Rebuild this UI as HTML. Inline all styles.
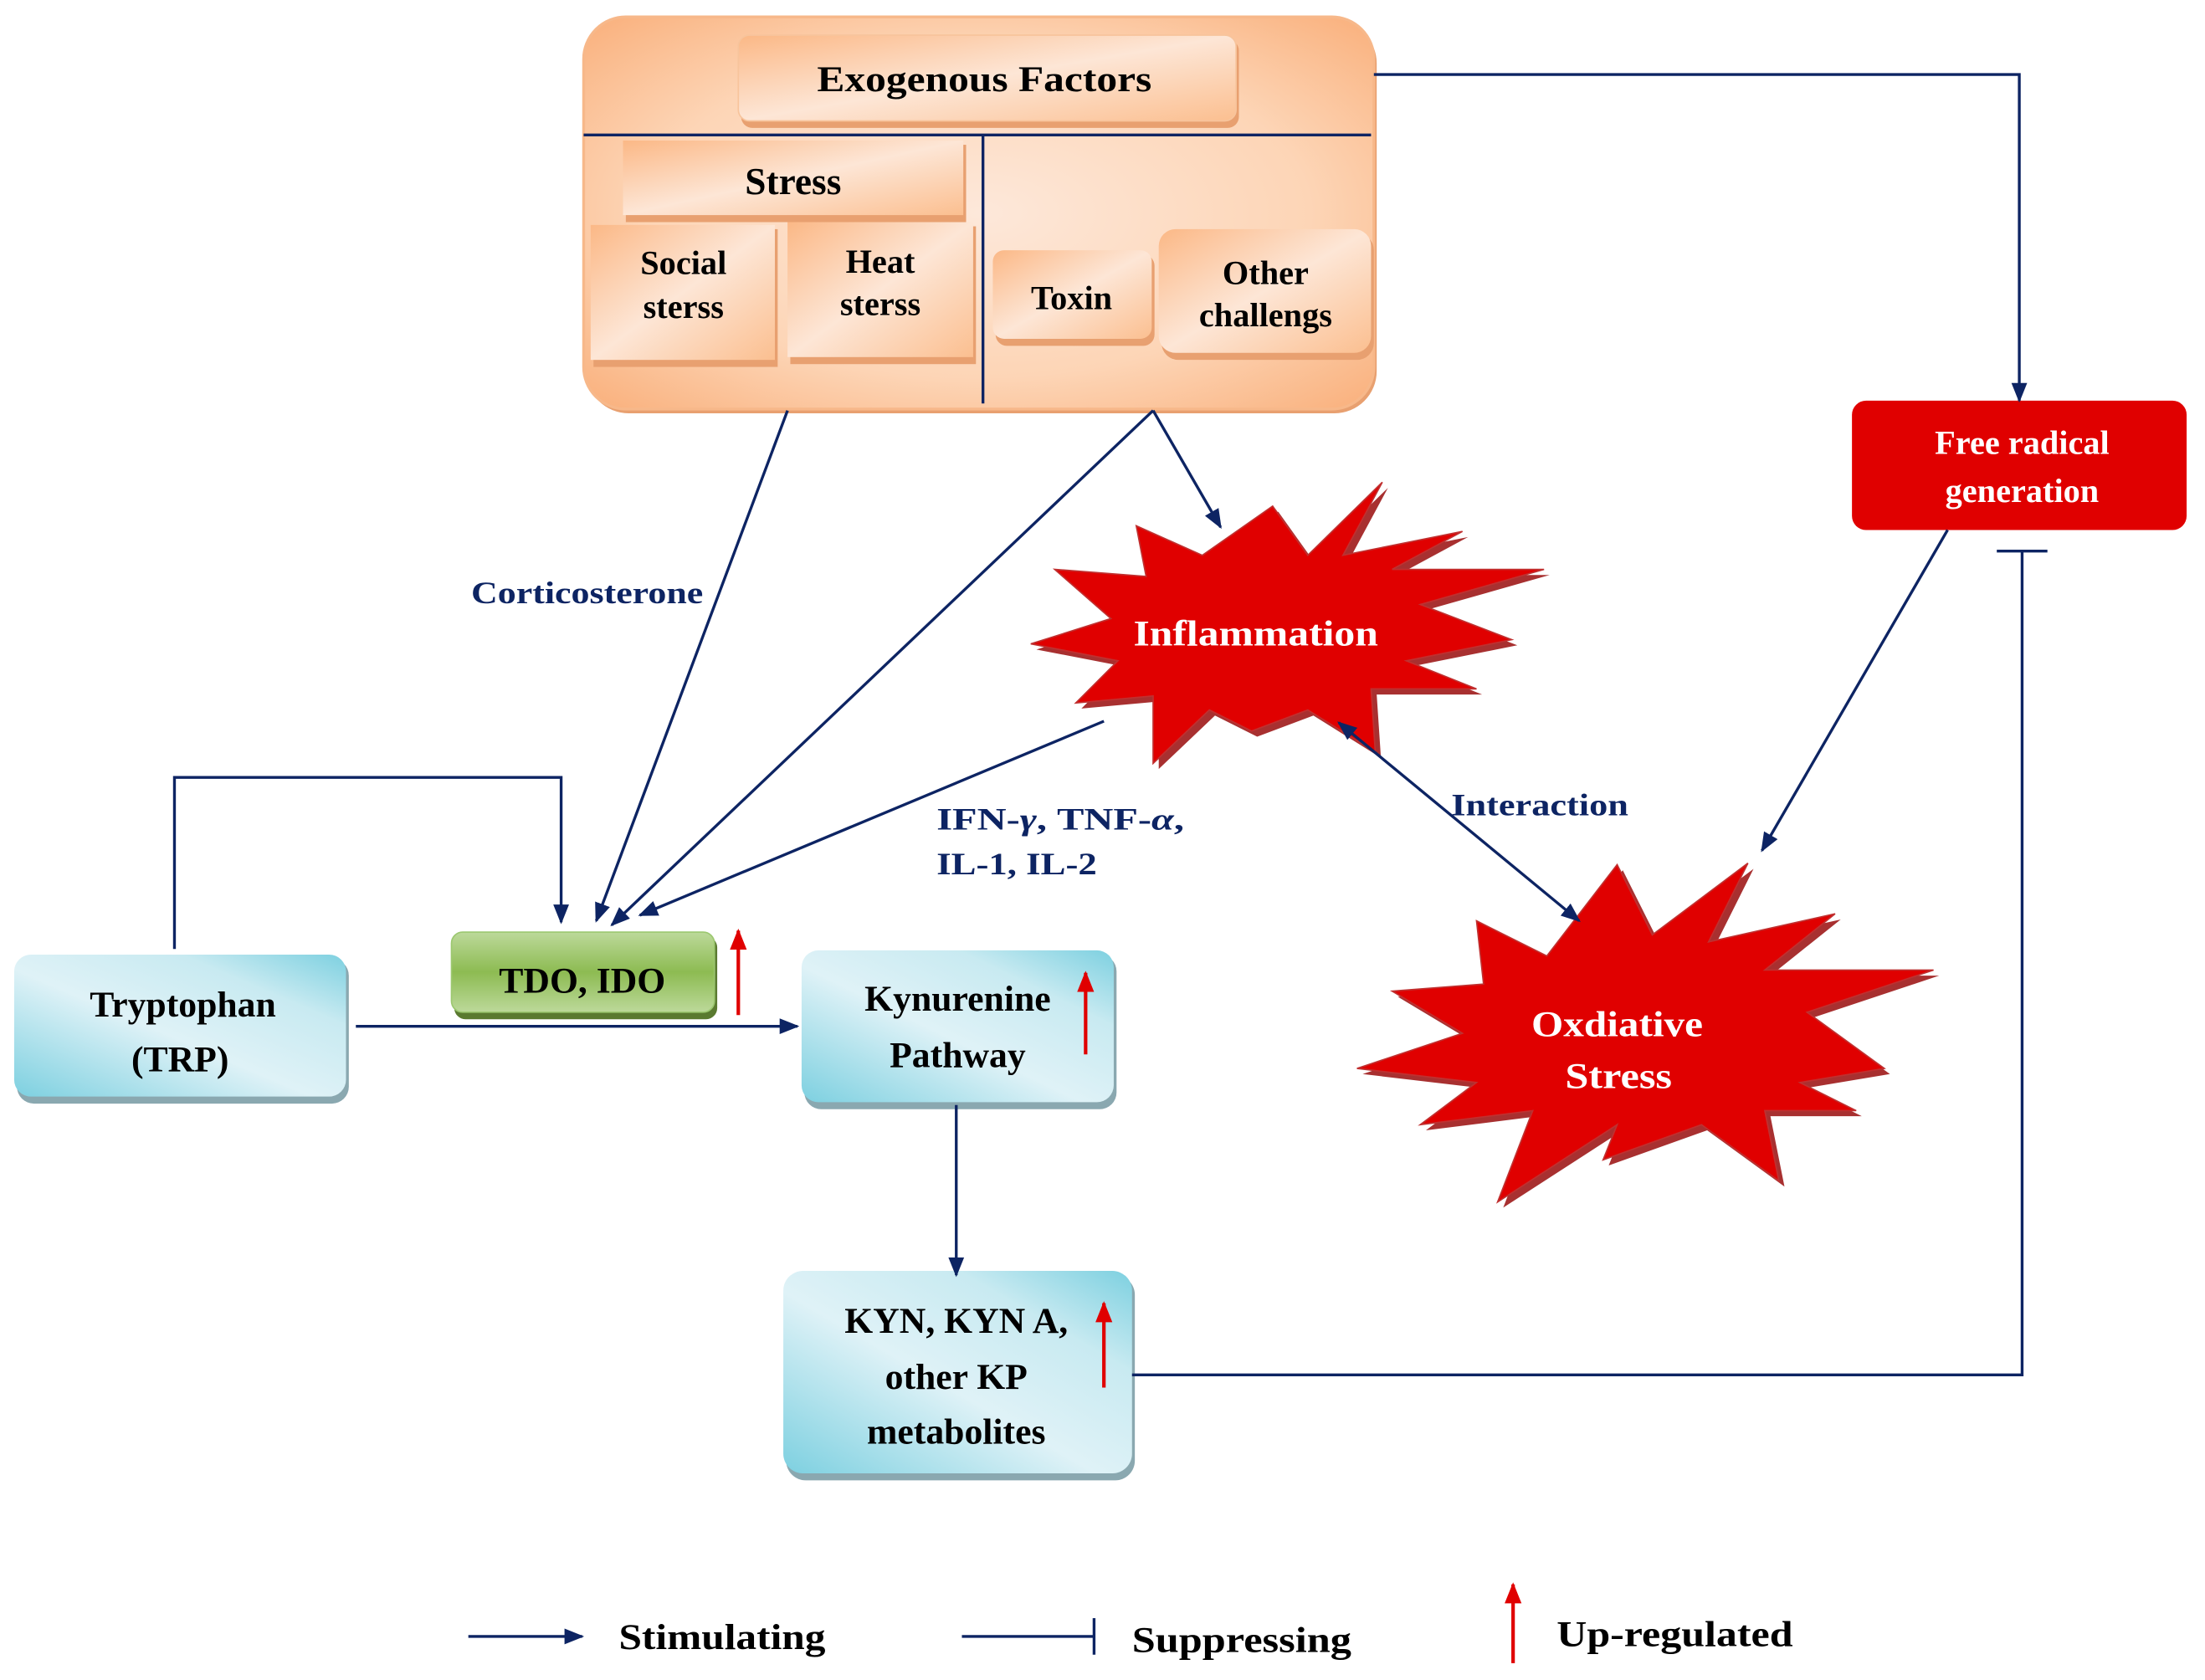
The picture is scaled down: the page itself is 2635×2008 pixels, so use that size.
<!DOCTYPE html>
<html><head><meta charset="utf-8"><style>
html,body{margin:0;padding:0;background:#fff;}
svg{display:block;}
text{font-family:"Liberation Serif",serif;font-weight:bold;}
</style></head><body>
<svg width="2635" height="2008" viewBox="0 0 1568 1195" xmlns="http://www.w3.org/2000/svg">
<defs>
<linearGradient id="og" x1="0" y1="0" x2="1" y2="1">
<stop offset="0" stop-color="#fbb886"/><stop offset="0.5" stop-color="#fde6d6"/><stop offset="1" stop-color="#fbbf90"/></linearGradient>
<radialGradient id="ob" cx="0.5" cy="0.5" r="0.7">
<stop offset="0" stop-color="#fde8da"/><stop offset="0.6" stop-color="#fdd5b6"/><stop offset="1" stop-color="#f9b07c"/></radialGradient>
<linearGradient id="bg" x1="0" y1="1" x2="1" y2="0">
<stop offset="0" stop-color="#7dd0e0"/><stop offset="0.45" stop-color="#dff2f7"/><stop offset="0.75" stop-color="#c8eaf1"/><stop offset="1" stop-color="#7dd0e0"/></linearGradient>
<linearGradient id="gg" x1="0" y1="0" x2="0" y2="1">
<stop offset="0" stop-color="#bcd99a"/><stop offset="0.5" stop-color="#8dbb52"/><stop offset="1" stop-color="#bcd99a"/></linearGradient>
<marker id="ah" viewBox="0 0 10 10" refX="9" refY="5" markerWidth="7" markerHeight="7" orient="auto-start-reverse"><path d="M0,1 L10,5 L0,9 Z" fill="#0d2463"/></marker>
<marker id="rh" viewBox="0 0 10 10" refX="9" refY="5" markerWidth="6" markerHeight="6" orient="auto"><path d="M0,1 L10,5 L0,9 Z" fill="#e00000"/></marker>
</defs>

<rect x="417" y="15" width="562" height="279" rx="30" fill="#e8a070"/>
<rect x="415" y="12" width="562" height="279" rx="30" fill="url(#ob)" stroke="#f7b88a" stroke-width="2"/>
<line x1="415" y1="96" x2="975" y2="96" stroke="#0d2463" stroke-width="2"/>
<line x1="699" y1="96" x2="699" y2="287" stroke="#0d2463" stroke-width="2"/>

<rect x="527" y="28" width="354" height="63" rx="8" fill="#e8a070"/>
<rect x="525" y="25" width="354" height="61" rx="8" fill="url(#og)" stroke="#f7c49c"/>
<text x="581" y="65" font-size="26" textLength="238" lengthAdjust="spacingAndGlyphs">Exogenous Factors</text>

<rect x="445" y="103" width="242" height="55" fill="#e8a070"/>
<rect x="443" y="100" width="242" height="53" fill="url(#og)"/>
<text x="564" y="138" font-size="27" text-anchor="middle">Stress</text>

<rect x="422" y="163" width="131" height="98" fill="#e8a070"/>
<rect x="420" y="160" width="131" height="96" fill="url(#og)"/>
<text x="486" y="195" font-size="24" text-anchor="middle">Social</text>
<text x="486" y="226" font-size="24" text-anchor="middle">sterss</text>

<rect x="562" y="161" width="132" height="98" fill="#e8a070"/>
<rect x="560" y="158" width="132" height="96" fill="url(#og)"/>
<text x="626" y="194" font-size="24" text-anchor="middle">Heat</text>
<text x="626" y="224" font-size="24" text-anchor="middle">sterss</text>

<rect x="708" y="181" width="113" height="65" rx="8" fill="#e8a070"/>
<rect x="706" y="178" width="113" height="63" rx="8" fill="url(#og)"/>
<text x="762" y="220" font-size="24" text-anchor="middle">Toxin</text>

<rect x="826" y="166" width="151" height="90" rx="12" fill="#e8a070"/>
<rect x="824" y="163" width="151" height="88" rx="12" fill="url(#og)"/>
<text x="900" y="202" font-size="24" text-anchor="middle">Other</text>
<text x="900" y="232" font-size="24" text-anchor="middle">challengs</text>

<rect x="1317" y="285" width="238" height="92" rx="10" fill="#e00000"/>
<text x="1438" y="323" font-size="24" fill="#fff" text-anchor="middle">Free radical</text>
<text x="1438" y="357" font-size="24" fill="#fff" text-anchor="middle">generation</text>

<polygon transform="translate(4,4)" fill="#a83030" points="983,343 955,395 1040,378 990,405 1098,405 1010,430 1075,455 1000,470 1050,490 975,490 978,535 930,505 890,520 860,505 820,543 820,495 765,500 795,470 733,458 790,440 750,405 815,410 808,374 855,395 905,360 930,395"/>
<polygon fill="#e00000" stroke="#c03030" points="983,343 955,395 1040,378 990,405 1098,405 1010,430 1075,455 1000,470 1050,490 975,490 978,535 930,505 890,520 860,505 820,543 820,495 765,500 795,470 733,458 790,440 750,405 815,410 808,374 855,395 905,360 930,395"/>
<text x="806" y="459" font-size="26" fill="#fff" textLength="174" lengthAdjust="spacingAndGlyphs">Inflammation</text>

<polygon transform="translate(4,4)" fill="#a83030" points="1243,614 1215,670 1305,650 1255,690 1375,690 1285,720 1340,760 1280,770 1320,790 1255,790 1265,840 1210,800 1140,825 1150,800 1065,855 1090,790 1010,800 1050,770 965,760 1040,735 990,705 1055,700 1050,655 1100,680 1150,615 1175,665"/>
<polygon fill="#e00000" stroke="#c03030" points="1243,614 1215,670 1305,650 1255,690 1375,690 1285,720 1340,760 1280,770 1320,790 1255,790 1265,840 1210,800 1140,825 1150,800 1065,855 1090,790 1010,800 1050,770 965,760 1040,735 990,705 1055,700 1050,655 1100,680 1150,615 1175,665"/>
<text x="1089" y="737" font-size="26" fill="#fff" textLength="122" lengthAdjust="spacingAndGlyphs">Oxdiative</text>
<text x="1113" y="774" font-size="26" fill="#fff" textLength="76" lengthAdjust="spacingAndGlyphs">Stress</text>

<rect x="12" y="682" width="236" height="103" rx="12" fill="#8aa8b0"/>
<rect x="10" y="679" width="236" height="101" rx="12" fill="url(#bg)"/>
<text x="130" y="723" font-size="26" text-anchor="middle">Tryptophan</text>
<text x="128" y="762" font-size="26" text-anchor="middle">(TRP)</text>

<rect x="323" y="666" width="187" height="59" rx="8" fill="#5a7a30"/>
<rect x="321" y="663" width="187" height="57" rx="8" fill="url(#gg)" stroke="#9cc870"/>
<text x="414" y="706" font-size="26" text-anchor="middle">TDO, IDO</text>

<rect x="572" y="679" width="222" height="110" rx="12" fill="#8aa8b0"/>
<rect x="570" y="676" width="222" height="108" rx="12" fill="url(#bg)"/>
<text x="681" y="719" font-size="26" text-anchor="middle">Kynurenine</text>
<text x="681" y="759" font-size="26" text-anchor="middle">Pathway</text>

<rect x="559" y="907" width="248" height="146" rx="14" fill="#8aa8b0"/>
<rect x="557" y="904" width="248" height="144" rx="14" fill="url(#bg)"/>
<text x="680" y="948" font-size="26" text-anchor="middle">KYN, KYN A,</text>
<text x="680" y="988" font-size="26" text-anchor="middle">other KP</text>
<text x="680" y="1027" font-size="26" text-anchor="middle">metabolites</text>

<g stroke="#0d2463" stroke-width="2" fill="none">
<polyline points="124,675 124,553 399,553 399,656" marker-end="url(#ah)"/>
<line x1="253" y1="730" x2="567" y2="730" marker-end="url(#ah)"/>
<line x1="560" y1="292" x2="424" y2="655" marker-end="url(#ah)"/>
<line x1="820" y1="292" x2="435" y2="658" marker-end="url(#ah)"/>
<line x1="820" y1="292" x2="868" y2="375" marker-end="url(#ah)"/>
<line x1="785" y1="513" x2="455" y2="651" marker-end="url(#ah)"/>
<line x1="952" y1="514" x2="1123" y2="655" marker-start="url(#ah)" marker-end="url(#ah)"/>
<line x1="1385" y1="377" x2="1253" y2="605" marker-end="url(#ah)"/>
<polyline points="977,53 1436,53 1436,285" marker-end="url(#ah)"/>
<polyline points="805,978 1438,978 1438,392"/>
<line x1="1420" y1="392" x2="1456" y2="392"/>
<line x1="680" y1="786" x2="680" y2="907" marker-end="url(#ah)"/>
<line x1="333" y1="1164" x2="414" y2="1164" marker-end="url(#ah)"/>
<line x1="684" y1="1164" x2="778" y2="1164"/>
<line x1="778" y1="1151" x2="778" y2="1177"/>
</g>
<g stroke="#e00000" stroke-width="2.5">
<line x1="525" y1="722" x2="525" y2="662" marker-end="url(#rh)"/>
<line x1="772" y1="750" x2="772" y2="692" marker-end="url(#rh)"/>
<line x1="785" y1="987" x2="785" y2="927" marker-end="url(#rh)"/>
<line x1="1076" y1="1183" x2="1076" y2="1127" marker-end="url(#rh)"/>
</g>

<g fill="#0d2463" font-size="22">
<text x="335" y="429" textLength="165" lengthAdjust="spacingAndGlyphs">Corticosterone</text>
<text x="1032" y="580" textLength="126" lengthAdjust="spacingAndGlyphs">Interaction</text>
<text x="666" y="590" textLength="176" lengthAdjust="spacingAndGlyphs">IFN-<tspan font-style="italic">γ</tspan>,  TNF-<tspan font-style="italic">α</tspan>,</text>
<text x="666" y="622" textLength="114" lengthAdjust="spacingAndGlyphs">IL-1, IL-2</text>
</g>
<g font-size="26">
<text x="440" y="1173" textLength="147" lengthAdjust="spacingAndGlyphs">Stimulating</text>
<text x="805" y="1175" textLength="156" lengthAdjust="spacingAndGlyphs">Suppressing</text>
<text x="1107" y="1171" textLength="168" lengthAdjust="spacingAndGlyphs">Up-regulated</text>
</g>
</svg>
</body></html>
